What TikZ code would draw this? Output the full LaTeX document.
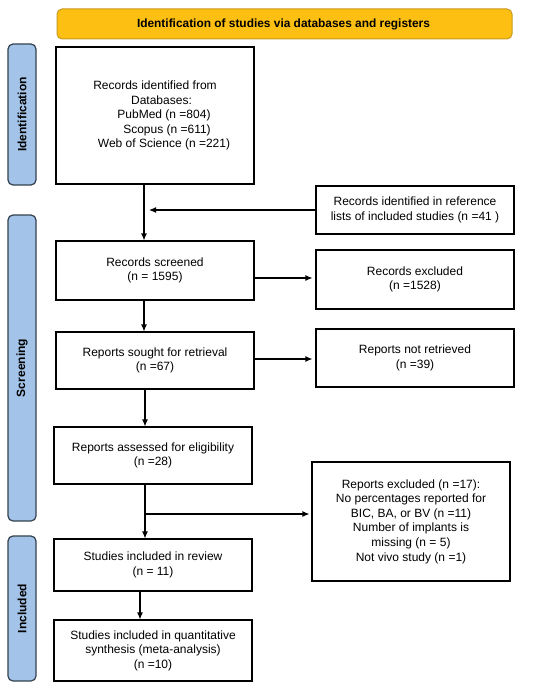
\documentclass[tikz,border=0pt]{standalone}
\usepackage{fontspec}
\setmainfont{Liberation Sans}
\usetikzlibrary{arrows.meta}
\definecolor{hdrfill}{HTML}{FDBF12}
\definecolor{hdrdraw}{HTML}{C99A1E}
\definecolor{barfill}{HTML}{A3C4E8}
\definecolor{bardraw}{HTML}{33414F}
\tikzset{
  box/.style={draw=black, line width=1.1pt, fill=white, align=center, inner sep=0pt,
    font=\fontsize{12}{14.6}\selectfont},
  hdr/.style={draw=hdrdraw, line width=1pt, fill=hdrfill, rounded corners=5pt},
  bar/.style={draw=bardraw, line width=1.2pt, fill=barfill, rounded corners=5pt},
  barlabel/.style={rotate=90, font=\bfseries\fontsize{12}{14}\selectfont},
  arr/.style={line width=1.1pt, -{Latex[length=7pt,width=6pt]}},
  ln/.style={line width=1.1pt}
}
\begin{document}
\begin{tikzpicture}[x=1pt,y=-1pt]
\useasboundingbox (0,0) rectangle (550,690);
% header
\draw[hdr] (57,9) rectangle (512,39);
\node[font=\bfseries\fontsize{11.9}{14}\selectfont] (hdr) at (283.5,24) {Identification of studies via databases and registers};
% side bars
\draw[bar] (8,44) rectangle (36,185);
\node[barlabel] (lid) at (22,114.5) {Identification};
\draw[bar] (8,215) rectangle (36,521);
\node[barlabel] (lsc) at (22,368) {Screening};
\draw[bar] (8,536) rectangle (36,681);
\node[barlabel] (lin) at (22,608.5) {Included};
% boxes
\node[box, minimum width=198pt, minimum height=137pt] (b1) at (155,115.5)
  {Records identified from\\ \hspace*{13pt}Databases:\\ \hspace*{18pt}PubMed (n =804)\\ \hspace*{24pt}Scopus (n =611)\\ \hspace*{18pt}Web of Science (n =221)};
\node[box, minimum width=198pt, minimum height=48pt] (ref) at (415,210)
  {Records identified in reference\\ lists of included studies (n =41 )};
\node[box, minimum width=198pt, minimum height=59pt] (b2) at (155,270.5)
  {Records screened\\ (n = 1595)};
\node[box, minimum width=198pt, minimum height=59pt] (ex1) at (415,279.5)
  {Records excluded\\ (n =1528)};
\node[box, minimum width=198pt, minimum height=57pt] (b3) at (155,360.5)
  {Reports sought for retrieval\\ (n =67)};
\node[box, minimum width=198pt, minimum height=58pt] (ex2) at (415,358)
  {Reports not retrieved\\ (n =39)};
\node[box, minimum width=198pt, minimum height=57pt] (b4) at (153,455.5)
  {Reports assessed for eligibility\\ (n =28)};
\node[box, minimum width=198pt, minimum height=119pt] (ex3) at (411,521.5)
  {Reports excluded (n =17):\\ No percentages reported for\\ BIC, BA, or BV (n =11)\\ Number of implants is\\ missing (n = 5)\\ Not vivo study (n =1)};
\node[box, minimum width=198pt, minimum height=52pt] (b5) at (153,565)
  {Studies included in review\\ (n = 11)};
\node[box, minimum width=198pt, minimum height=61pt] (b6) at (153,650.5)
  {Studies included in quantitative\\ synthesis (meta-analysis)\\ (n =10)};
% connectors
\coordinate (j1) at (144,210);
\draw[arr] (b1.south -| 144,0) -- (b2.north -| 144,0);
\draw[arr] (ref.west) -- ([xshift=5pt]j1);
\draw[arr] (b2.east |- 0,278) -- ([xshift=-3pt]ex1.west |- 0,278);
\draw[arr] (b2.south -| 144,0) -- (b3.north -| 144,0);
\draw[arr] (b3.east |- 0,359) -- ([xshift=-3pt]ex2.west |- 0,359);
\draw[arr] (b3.south -| 145,0) -- (b4.north -| 145,0);
\coordinate (j2) at (145,514);
\draw[arr] (b4.south -| 145,0) -- (b5.north -| 145,0);
\draw[arr] ([xshift=1pt]j2) -- ([xshift=-2pt]ex3.west |- j2);
\draw[arr] (b5.south -| 140,0) -- (b6.north -| 140,0);
\end{tikzpicture}
\end{document}
